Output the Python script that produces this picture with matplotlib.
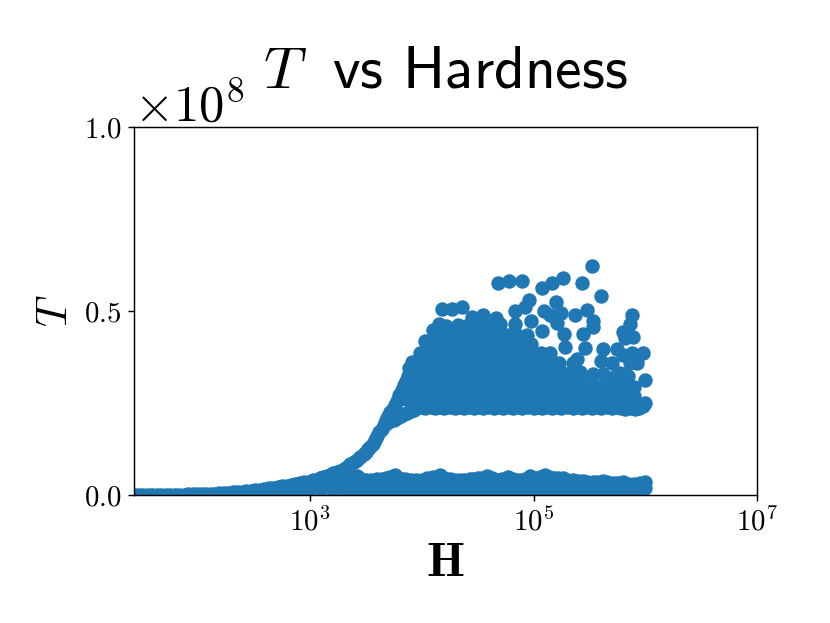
import numpy as np
import matplotlib
matplotlib.use('Agg')
import matplotlib.pyplot as plt
from matplotlib.ticker import NullLocator, ScalarFormatter

# all T values are in units of 1e7, H as log10
curve_logh = [1.43, 1.47, 1.51, 1.55, 1.59, 1.63, 1.67, 1.71, 1.75, 1.79, 1.83, 1.87,
              1.91, 1.95, 1.99, 2.03, 2.07, 2.11, 2.15, 2.19, 2.23, 2.27, 2.31, 2.35,
              2.39, 2.43, 2.47, 2.51, 2.55, 2.59, 2.63, 2.67, 2.71, 2.75, 2.79, 2.83,
              2.87, 2.91, 2.95, 2.99, 3.03, 3.06, 3.09, 3.12, 3.15, 3.18, 3.21, 3.24,
              3.27, 3.3, 3.33, 3.36, 3.39, 3.42, 3.45, 3.48, 3.5, 3.52, 3.54, 3.56,
              3.58, 3.6, 3.62, 3.64, 3.66, 3.68, 3.7, 3.72, 3.74, 3.76, 3.78, 3.8,
              3.82, 3.84, 3.86, 3.88]
curve_t = [0.0, 0.001, 0.002, 0.003, 0.004, 0.005, 0.006, 0.007, 0.008, 0.01, 0.011,
           0.013, 0.015, 0.017, 0.02, 0.024, 0.028, 0.032, 0.04, 0.048, 0.055, 0.063,
           0.072, 0.08, 0.09, 0.1, 0.11, 0.125, 0.14, 0.16, 0.18, 0.195, 0.215, 0.235,
           0.255, 0.275, 0.295, 0.315, 0.34, 0.365, 0.395, 0.42, 0.45, 0.48, 0.52, 0.55,
           0.59, 0.625, 0.66, 0.71, 0.76, 0.83, 0.89, 0.95, 1.03, 1.11, 1.17, 1.24,
           1.31, 1.39, 1.5, 1.6, 1.71, 1.8, 1.91, 2.03, 2.15, 2.25, 2.35, 2.45, 2.56,
           2.71, 2.85, 2.98, 3.1, 3.23]

edge_logh = [3.67, 3.69, 3.72, 3.75, 3.78, 3.81, 3.84, 3.87, 3.9, 3.93]
edge_t = [1.92, 1.95, 2.0, 2.05, 2.1, 2.15, 2.2, 2.24, 2.28, 2.32]

# fill under the curve where it runs into the lower band
under_logh = [2.7, 2.8, 2.9, 3.0, 3.1, 3.2, 3.3, 3.4, 3.1, 3.2, 3.3]
under_t = [0.1, 0.1, 0.12, 0.15, 0.15, 0.15, 0.2, 0.2, 0.3, 0.35, 0.4]

low_logh = [3.3, 3.42, 3.5, 3.6, 3.68, 3.76, 3.85, 3.95, 4.05, 4.16, 4.25, 4.34, 4.43,
            4.5, 4.58, 4.68, 4.77, 4.87, 4.97, 5.03, 5.10, 5.18, 5.26, 5.35, 5.44,
            5.53, 5.62, 5.71, 5.8, 5.9, 6.0]
low_top_t = [0.42, 0.51, 0.42, 0.44, 0.46, 0.53, 0.44, 0.41, 0.45, 0.55, 0.43, 0.41,
             0.44, 0.46, 0.51, 0.42, 0.48, 0.41, 0.51, 0.44, 0.55, 0.46, 0.45, 0.40,
             0.38, 0.36, 0.37, 0.33, 0.34, 0.31, 0.36]
low_bottom_t = [0.1, 0.11, 0.08, 0.12, 0.09, 0.11, 0.1, 0.08, 0.12, 0.09, 0.11, 0.1,
                0.08, 0.12, 0.09, 0.11, 0.08, 0.1, 0.12, 0.09, 0.11, 0.1, 0.08, 0.11,
                0.09, 0.12, 0.09, 0.11, 0.12, 0.14, 0.2]
low_mid_logh = [3.36, 3.46, 3.55, 3.64, 3.72, 3.8, 3.9, 4.0, 4.1, 4.2, 4.3, 4.38, 4.46,
                4.54, 4.63, 4.72, 4.82, 4.92, 5.0, 5.06, 5.14, 5.22, 5.3, 5.4, 5.48,
                5.57, 5.66, 5.75, 5.85, 5.95]
low_mid_t = [0.45, 0.44, 0.42, 0.44, 0.48, 0.47, 0.42, 0.42, 0.48, 0.47, 0.41, 0.42,
             0.44, 0.47, 0.45, 0.43, 0.43, 0.44, 0.46, 0.48, 0.48, 0.45, 0.41, 0.38,
             0.36, 0.35, 0.34, 0.32, 0.31, 0.32]
low_inner_t = [0.24, 0.22, 0.25, 0.23, 0.26, 0.22, 0.24, 0.25, 0.23, 0.26, 0.22, 0.24,
               0.25, 0.23, 0.22, 0.26, 0.24, 0.23, 0.25, 0.22, 0.24, 0.26, 0.23, 0.22,
               0.24, 0.23, 0.22, 0.24, 0.22, 0.23]

# filled part of the upper cloud, one list per T level
cloud_row_t = [2.36, 2.38, 2.6, 2.85, 3.1, 3.35, 3.6, 3.85, 4.1, 4.35, 4.6]
cloud_row_logh = [
    [3.95, 4.03, 4.12, 4.2, 4.3, 4.38, 4.47, 4.55, 4.65, 4.73, 4.82, 4.9, 5.0, 5.08,
     5.17, 5.25, 5.35, 5.43, 5.52, 5.6, 5.7, 5.78, 5.87, 5.94],
    [3.99, 4.08, 4.16, 4.25, 4.34, 4.42, 4.51, 4.6, 4.69, 4.78, 4.86, 4.95, 5.04, 5.12,
     5.21, 5.3, 5.39, 5.47, 5.56, 5.65, 5.74],
    [3.86, 3.95, 4.03, 4.12, 4.2, 4.3, 4.38, 4.47, 4.55, 4.65, 4.73, 4.82, 4.9, 5.0,
     5.08, 5.17, 5.25, 5.35, 5.43, 5.52, 5.6, 5.68, 5.76],
    [3.85, 3.9, 3.99, 4.08, 4.17, 4.26, 4.35, 4.44, 4.53, 4.62, 4.71, 4.8, 4.89, 4.98,
     5.07, 5.16, 5.25, 5.34, 5.43, 5.48, 5.57, 5.64],
    [3.88, 3.95, 4.03, 4.12, 4.2, 4.3, 4.38, 4.47, 4.55, 4.65, 4.73, 4.82, 4.9, 5.0,
     5.08, 5.17, 5.25, 5.35, 5.42],
    [3.91, 3.99, 4.08, 4.17, 4.26, 4.35, 4.44, 4.53, 4.62, 4.71, 4.8, 4.89, 4.98, 5.07,
     5.16, 5.25, 5.35],
    [3.94, 4.03, 4.12, 4.2, 4.3, 4.38, 4.47, 4.55, 4.65, 4.73, 4.82, 4.9, 5.0, 5.08,
     5.17, 5.23],
    [4.0, 4.08, 4.17, 4.26, 4.35, 4.44, 4.53, 4.62, 4.71, 4.8, 4.89, 4.98, 5.07, 5.15],
    [4.08, 4.17, 4.26, 4.35, 4.44, 4.53, 4.62, 4.71, 4.8, 4.89, 4.98],
    [4.15, 4.24, 4.33, 4.42, 4.5, 4.58, 4.66, 4.76, 4.85, 4.94],
    [4.22, 4.4, 4.49, 4.58, 4.65],
]

# loose points around the top and right of the cloud
outer_logh = [5.52, 4.68, 4.78, 4.90, 5.08, 5.17, 5.26, 5.43, 5.60, 4.96, 4.92, 4.83,
              4.83, 4.98, 5.20, 5.09, 5.15, 5.25, 5.37, 5.48, 5.53, 5.53, 5.44, 5.21,
              5.08, 5.27, 5.28, 5.46, 5.88, 5.86, 5.80, 5.82, 5.89, 5.62, 5.75, 5.98,
              5.88, 5.80, 5.60, 5.93, 5.86, 5.77, 5.85, 6.0, 5.90, 5.53, 5.39, 6.0,
              5.91, 5.82, 5.71, 5.66, 5.84, 5.53, 5.48, 4.18, 4.27, 4.36, 4.15, 4.10,
              4.03, 3.98, 3.91, 3.89, 4.45, 4.55, 4.66, 4.70, 4.32, 4.37,
              5.62, 5.7, 5.78, 5.88, 5.95, 5.68, 5.75, 5.8, 5.9, 5.98,
              5.3, 5.35, 5.42, 5.5, 5.55, 5.62, 5.7, 5.72, 5.78]
outer_t = [6.22, 5.76, 5.82, 5.82, 5.62, 5.76, 5.90, 5.76, 5.41, 5.30, 5.11, 5.00,
           4.65, 4.73, 5.24, 5.00, 4.89, 4.95, 4.89, 5.03, 4.73, 4.57, 4.38, 4.67,
           4.46, 4.38, 4.02, 3.99, 4.89, 4.65, 4.43, 4.27, 4.29, 3.97, 3.97, 3.86,
           3.86, 3.80, 3.64, 3.59, 3.59, 3.32, 3.23, 3.13, 2.93, 3.29, 3.70, 2.50,
           2.34, 2.34, 2.85, 3.04, 2.66, 2.77, 2.72, 5.05, 5.05, 5.11, 4.65, 4.48,
           4.18, 3.86, 3.61, 3.45, 4.84, 4.89, 4.81, 4.65, 4.62, 4.35,
           2.6, 2.55, 2.6, 2.45, 2.45, 3.0, 3.1, 2.8, 2.7, 2.42,
           3.3, 3.6, 3.35, 3.05, 2.95, 3.3, 3.6, 3.2, 3.0]

xticks = [1e3, 1e5, 1e7]
yticks = [0, 0.5e8, 1e8]


def main():
    plt.rcParams['font.family'] = 'cmr10'
    plt.rcParams['mathtext.fontset'] = 'cm'
    plt.rcParams['axes.formatter.use_mathtext'] = True

    logh = (curve_logh + edge_logh + under_logh + low_logh + low_logh
            + low_mid_logh + low_mid_logh + outer_logh)
    t = (curve_t + edge_t + under_t + low_top_t + low_bottom_t
         + low_mid_t + low_inner_t + outer_t)
    for row_t, row in zip(cloud_row_t, cloud_row_logh):
        logh = logh + row
        t = t + [row_t]*len(row)
    logh = np.asarray(logh)
    t = np.asarray(t)

    fig = plt.figure(figsize=(830/130, 623/130), dpi=130)
    ax = fig.add_axes([134/830, 1 - 495/623, (757 - 134)/830, (495 - 127)/623])
    ax.scatter(10**logh, t*1e7, s=49, color='#1f77b4')

    ax.set_xscale('log')
    ax.set_xlim(10**1.425, 1e7)
    ax.set_ylim(0, 1e8)
    ax.set_xticks(xticks)
    ax.xaxis.set_minor_locator(NullLocator())
    ax.set_yticks(yticks)
    fmt = ScalarFormatter(useMathText=True)
    fmt.set_powerlimits((0, 0))
    ax.yaxis.set_major_formatter(fmt)
    ax.tick_params(labelsize=16)
    ax.yaxis.get_offset_text().set_fontsize(28)

    ax.set_xlabel(r'$\mathbf{H}$', fontsize=27, labelpad=2.5)
    ax.set_ylabel(r'$T$', fontsize=24)
    ax.set_title(r'$T\;$ vs Hardness', fontsize=33, family='cmss10', pad=22)

    fig.savefig('out.png', dpi=130)


if __name__ == '__main__':
    main()
